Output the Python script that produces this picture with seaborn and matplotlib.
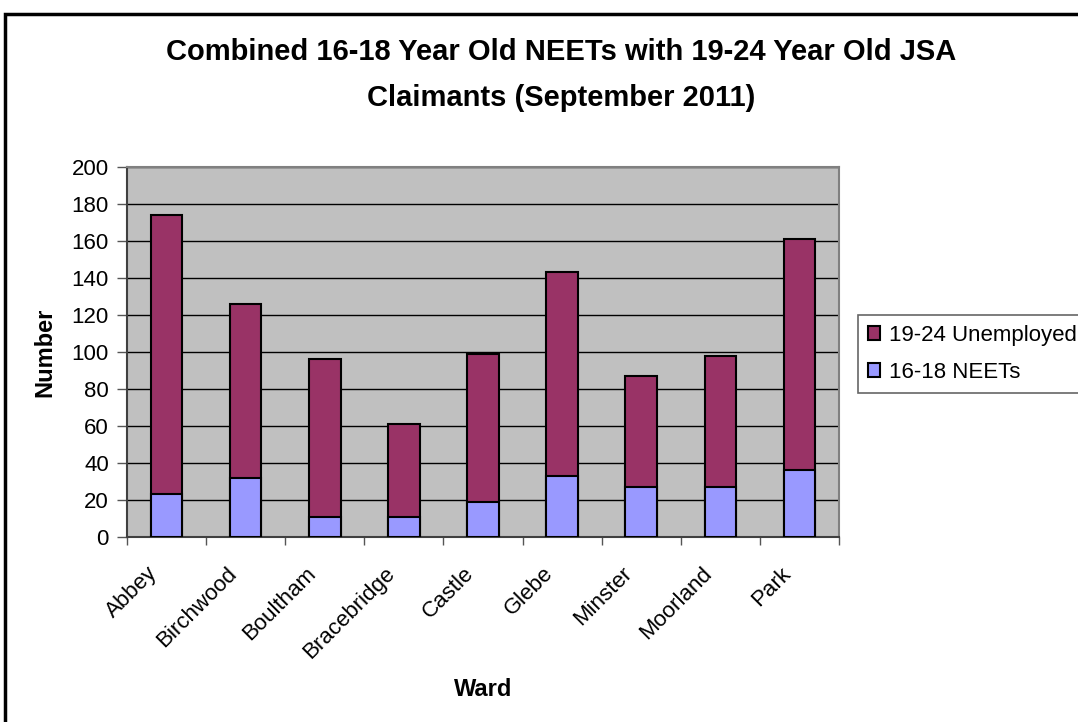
import numpy as np
import pandas as pd
import matplotlib
matplotlib.use("Agg")
import matplotlib.pyplot as plt
import matplotlib.transforms as mtransforms
import seaborn as sns
from matplotlib.patches import Rectangle, Patch

wards = ["Abbey", "Birchwood", "Boultham", "Bracebridge", "Castle",
         "Glebe", "Minster", "Moorland", "Park"]
neets_16_18 = [23, 32, 11, 11, 19, 33, 27, 27, 36]
unemployed_19_24 = [151, 94, 85, 50, 80, 110, 60, 71, 125]

y_ticks = [0, 20, 40, 60, 80, 100, 120, 140, 160, 180, 200]

sns.set_theme(style="white")
plt.rcParams["font.family"] = ["Liberation Sans", "DejaVu Sans"]
plt.rcParams["text.color"] = "black"
plt.rcParams["axes.labelcolor"] = "black"

df = pd.DataFrame({
    "Ward": wards,
    "NEET": neets_16_18,
    "Unemployed": unemployed_19_24,
})
df["Total"] = df["NEET"] + df["Unemployed"]

W, H = 1078, 722
fig = plt.figure(figsize=(W / 100, H / 100), dpi=100)
ax = fig.add_axes([127 / W, (H - 537) / H, (839 - 127) / W, 370 / H])
ax.set_facecolor("#C0C0C0")

# stacked columns: full height in maroon, NEET part drawn over it
sns.barplot(data=df, x="Ward", y="Total", color="#993366", width=0.4,
            edgecolor="black", linewidth=1.5, saturation=1, ax=ax, zorder=3)
sns.barplot(data=df, x="Ward", y="NEET", color="#9999FF", width=0.4,
            edgecolor="black", linewidth=1.5, saturation=1, ax=ax, zorder=4)

ax.set_ylim(0, 200)
ax.set_xlim(-0.5, len(wards) - 0.5)
ax.set_yticks(y_ticks)
ax.set_yticklabels([str(v) for v in y_ticks], fontsize=16, color="black")
for v in y_ticks[1:]:
    ax.axhline(v, color="black", linewidth=1, zorder=1)

ax.set_xticks(range(len(wards)))
ax.set_xticklabels(wards, rotation=45, ha="right", va="center",
                   rotation_mode="anchor", fontsize=16, color="black")
ax.tick_params(axis="x", which="major", length=0, pad=24)
shift = mtransforms.ScaledTranslation(-0.12, 0, fig.dpi_scale_trans)
for lbl in ax.get_xticklabels():
    lbl.set_transform(lbl.get_transform() + shift)
ax.set_xticks(np.arange(-0.5, len(wards)), minor=True)
ax.tick_params(axis="x", which="minor", length=6, width=1, color="#555555",
               direction="out", bottom=True)
ax.tick_params(axis="y", length=7, width=1, color="#555555", direction="out",
               left=True, pad=6)

for side in ["top", "right"]:
    ax.spines[side].set_color("#808080")
    ax.spines[side].set_linewidth(1.5)
for side in ["left", "bottom"]:
    ax.spines[side].set_color("#404040")
    ax.spines[side].set_linewidth(1.5)

ax.set_xlabel("Ward", fontsize=17, fontweight="bold")
ax.xaxis.set_label_coords(0.5, (537 - 678) / 370)
ax.set_ylabel("Number", fontsize=17, fontweight="bold")
ax.yaxis.set_label_coords((56 - 127) / 712, 0.5)

fig.text(561 / W, (H - 75) / H,
         "Combined 16-18 Year Old NEETs with 19-24 Year Old JSA\nClaimants (September 2011)",
         ha="center", va="center", fontsize=21, fontweight="bold",
         linespacing=1.85)

handles = [Patch(facecolor="#993366", edgecolor="black", linewidth=1.5),
           Patch(facecolor="#9999FF", edgecolor="black", linewidth=1.5)]
leg = fig.legend(handles, ["19-24 Unemployed", "16-18 NEETs"],
                 loc="upper left", bbox_to_anchor=(858 / W, (H - 315) / H),
                 fontsize=16, frameon=True, fancybox=False, handlelength=0.55,
                 handleheight=0.55, handletextpad=0.4, borderpad=0.45,
                 labelspacing=0.72, borderaxespad=0)
leg.get_frame().set_edgecolor("#404040")
leg.get_frame().set_linewidth(1.2)

# chart frame
fig.patches.append(Rectangle((5 / W, -10 / H), (W + 20) / W, (H - 4) / H,
                             transform=fig.transFigure, fill=False,
                             edgecolor="black", linewidth=2.5))

fig.savefig("out.png", dpi=100)
